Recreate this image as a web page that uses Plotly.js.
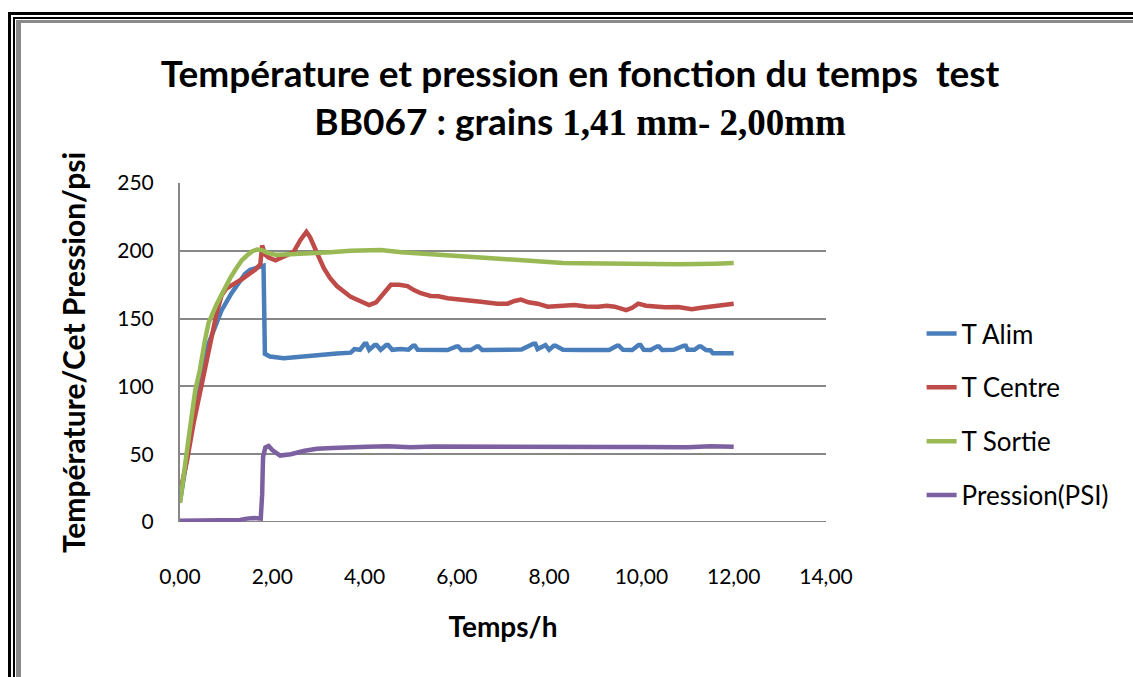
<!DOCTYPE html>
<html>
<head>
<meta charset="utf-8">
<script src="https://cdn.plot.ly/plotly-3.0.1.min.js"></script>
<style>
  html, body { margin:0; padding:0; background:#fff; overflow:hidden; }
  #wrap { position:relative; width:1133px; height:677px; }
  #chart { position:absolute; left:0; top:0; width:1133px; height:677px; }
  .frame { position:absolute; right:-20px; bottom:-20px; pointer-events:none; }
</style>
</head>
<body>
<div id="wrap">
  <div id="chart"></div>
  <div class="frame" style="left:8px; top:12px; border-left:3px solid #000; border-top:3px solid #000;"></div>
  <div class="frame" style="left:13px; top:17px; border-left:2px solid #000; border-top:2px solid #000;"></div>
  <div class="frame" style="left:16px; top:20px; border-left:5px solid #8a8a8a; border-top:3px solid #8a8a8a;"></div>
</div>
<script>
// ---- data ----
const seriesNames = ["T Alim", "T Centre", "T Sortie", "Pression(PSI)"];

const alimTime = [0, 0.1, 0.2, 0.33, 0.43, 0.6, 0.83, 0.9, 1.12, 1.3, 1.41, 1.52, 1.7, 1.81, 1.84, 1.95, 2.25, 2.6, 2.97, 3.4, 3.7, 3.78, 3.9, 4.0, 4.04, 4.1, 4.22, 4.26, 4.35, 4.47, 4.51, 4.6, 4.78, 4.95, 5.05, 5.09, 5.15, 5.5, 5.8, 5.99, 6.03, 6.1, 6.3, 6.43, 6.47, 6.55, 7.0, 7.4, 7.66, 7.7, 7.75, 7.88, 7.92, 8.0, 8.1, 8.14, 8.3, 8.7, 9.0, 9.3, 9.47, 9.51, 9.6, 9.8, 9.94, 9.98, 10.05, 10.2, 10.34, 10.38, 10.45, 10.7, 10.92, 10.96, 11.0, 11.15, 11.25, 11.29, 11.4, 11.5, 11.55, 11.6, 11.8, 12.0];
const alimValues = [15, 35, 58, 88, 107, 130, 149, 156, 169, 178, 183, 186, 188, 189, 124, 122, 120.7, 122, 123.5, 124.3, 124.9, 127.5, 127, 131.5, 131.5, 127, 130.5, 130.5, 127, 130.5, 130.5, 127, 127.5, 127, 130, 130, 127, 126.8, 126.8, 129.5, 129.5, 126.8, 126.8, 129.5, 129.5, 126.8, 126.8, 127.2, 131.5, 131.5, 127.5, 130.5, 130.5, 127, 130, 130, 127, 126.8, 127, 126.8, 130, 130, 127, 126.8, 130.5, 130.5, 127, 126.8, 129.5, 129.5, 126.8, 127, 130, 130, 127, 127, 129.5, 129.5, 126.8, 126.5, 124.4, 124.4, 124.4, 124.4];

const centreTime = [0, 0.15, 0.29, 0.43, 0.55, 0.69, 0.8, 0.9, 1.0, 1.09, 1.2, 1.34, 1.5, 1.63, 1.74, 1.78, 1.85, 1.92, 2.07, 2.17, 2.3, 2.46, 2.61, 2.74, 2.82, 2.9, 3.0, 3.12, 3.25, 3.4, 3.55, 3.7, 3.9, 4.1, 4.25, 4.35, 4.45, 4.57, 4.75, 4.93, 5.07, 5.22, 5.43, 5.6, 5.8, 6.16, 6.52, 6.88, 7.1, 7.25, 7.39, 7.55, 7.75, 7.97, 8.3, 8.55, 8.8, 9.06, 9.25, 9.42, 9.67, 9.8, 9.93, 10.1, 10.3, 10.51, 10.8, 11.09, 11.3, 11.59, 11.8, 12.0];
const centreValues = [22, 45, 72, 95, 115, 138, 155, 167, 172, 174, 176, 179, 183, 186, 190, 204, 197, 195, 193, 194.5, 196, 199, 208, 214, 210, 203, 196, 187, 180, 174, 170, 166, 163, 160, 162, 166, 171, 175, 175, 174, 171, 168.7, 166.7, 166.5, 165, 164, 162.5, 161, 161, 163, 164, 162, 161, 158.8, 159.5, 160, 159, 158.8, 159.5, 158.8, 156.3, 158, 161, 159.5, 159, 158.3, 158.5, 157, 158, 159.3, 160, 161];

const sortieTime = [0, 0.1, 0.18, 0.33, 0.43, 0.54, 0.62, 0.8, 0.98, 1.09, 1.2, 1.34, 1.45, 1.56, 1.67, 1.78, 1.9, 2.07, 2.17, 2.6, 3.26, 3.7, 4.13, 4.35, 4.8, 5.43, 6.0, 6.5, 7.0, 7.61, 8.3, 8.7, 9.4, 10.1, 10.8, 11.59, 12.0];
const sortieValues = [14, 37, 60, 97, 112, 134, 147, 161, 173.5, 180, 186, 193, 196.5, 199.5, 201, 200.5, 198.5, 197, 197, 197.5, 199, 200, 200.5, 200.5, 199, 197.5, 196, 194.7, 193.5, 192, 191, 190.8, 190.3, 190, 190, 190.5, 191];

const pressionTime = [0, 0.5, 1.0, 1.3, 1.45, 1.6, 1.75, 1.78, 1.8, 1.85, 1.92, 2.0, 2.17, 2.4, 2.7, 2.97, 3.3, 3.7, 4.06, 4.5, 5.0, 5.5, 6.0, 6.5, 7.0, 7.5, 8.0, 8.5, 9.0, 9.5, 10.0, 10.5, 11.0, 11.5, 12.0];
const pressionValues = [1, 1, 1.5, 1.5, 2.5, 3, 2.5, 20, 48, 55, 56, 53, 49, 50, 52.5, 54, 54.5, 55.3, 55.5, 55.8, 55.2, 55.6, 55.5, 55.1, 55, 55.3, 55.4, 55, 55, 55.3, 55.3, 55.1, 55.2, 55.8, 55.5];

const xTickValues = [0, 2, 4, 6, 8, 10, 12, 14];
const xTickLabels = ["0,00", "2,00", "4,00", "6,00", "8,00", "10,00", "12,00", "14,00"];
const yTickValues = [0, 50, 100, 150, 200, 250];

const colors = ["#4a7ebb", "#be4b48", "#98b954", "#7d60a0"];

const xs = [alimTime, centreTime, sortieTime, pressionTime];
const ys = [alimValues, centreValues, sortieValues, pressionValues];

const traces = seriesNames.map((name, i) => ({
  type: "scatter",
  mode: "lines",
  name: name,
  x: xs[i],
  y: ys[i],
  legendgroup: "g" + i,
  line: { color: colors[i], width: 4.5, shape: "linear" },
  hoverinfo: "skip"
}));

const font = "Lato, 'Open Sans', sans-serif";

const layout = {
  width: 1133,
  height: 677,
  paper_bgcolor: "#ffffff",
  plot_bgcolor: "#ffffff",
  margin: { l: 180, r: 307, t: 183, b: 155 },
  font: { family: font, color: "#000000", size: 20 },
  title: {
    text: "Température et pression en fonction du temps&nbsp; test<br>BB067 : grains <span style='font-family:\"Liberation Serif\", serif'>1,41 mm- 2,00mm</span>",
    font: { family: font, size: 37, color: "#000000", weight: "bold" },
    x: 0.512,
    xanchor: "center",
    y: 0.872,
    yanchor: "middle",
    yref: "container"
  },
  xaxis: {
    range: [0, 14],
    tickvals: xTickValues,
    ticktext: xTickLabels,
    showgrid: false,
    zeroline: false,
    showline: false,
    ticks: "",
    ticklabelstandoff: 40,
    tickfont: { family: font, size: 21, color: "#000" },
    title: { text: "Temps/h", font: { family: font, size: 28, weight: "bold", color: "#000" }, standoff: 30 }
  },
  yaxis: {
    range: [0, 250],
    tickvals: yTickValues,
    showgrid: true,
    gridcolor: "#878787",
    gridwidth: 2,
    zeroline: false,
    showline: true,
    linecolor: "#878787",
    linewidth: 2,
    ticks: "",
    ticklabelstandoff: 20,
    tickfont: { family: font, size: 21, color: "#000" },
    title: { text: "Température/Cet Pression/psi", font: { family: font, size: 30, weight: "bold", color: "#000" }, standoff: 23 }
  },
  showlegend: true,
  legend: {
    x: 1.148,
    y: 0.625,
    xanchor: "left",
    yanchor: "top",
    bgcolor: "rgba(0,0,0,0)",
    font: { family: font, size: 26, color: "#000" },
    tracegroupgap: 17,
    itemwidth: 30
  }
};

// horizontal line at y=0 (the category axis line in the reference)
layout.shapes = [{
  type: "line", xref: "paper", yref: "y", x0: 0, x1: 1, y0: 0, y1: 0,
  line: { color: "#878787", width: 2 }, layer: "below"
}];

Plotly.newPlot("chart", traces, layout, { staticPlot: true, displayModeBar: false });
</script>
</body>
</html>
